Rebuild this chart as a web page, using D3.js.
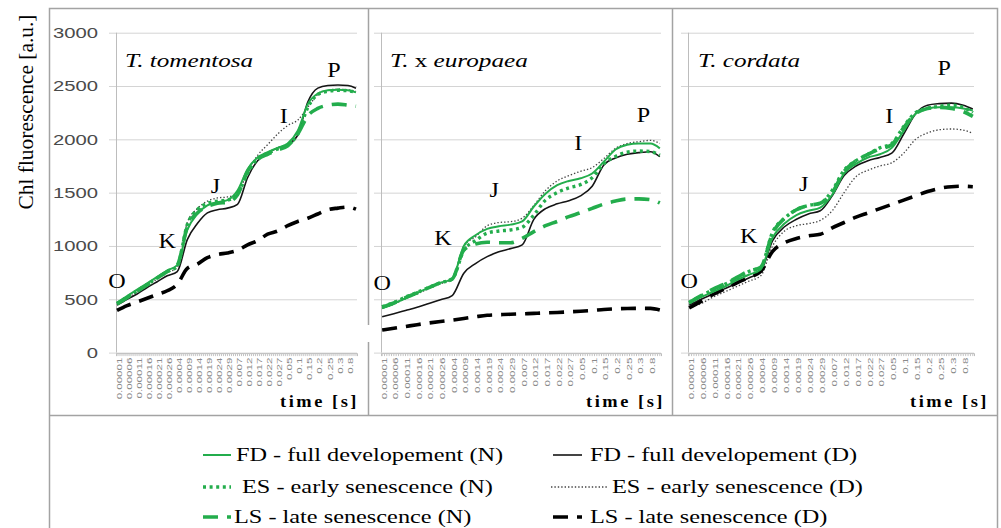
<!DOCTYPE html>
<html>
<head>
<meta charset="utf-8">
<script src="https://cdn.jsdelivr.net/npm/d3@7"></script>
<style>
  body { margin: 0; background: #fff; }
  svg { display: block; }
</style>
</head>
<body>
<svg id="svg" width="1001" height="528"></svg>
<script>
// time categories: one label every 5 categories
var xTickLabels = ["0.00001", "0.00006", "0.00011", "0.00016", "0.00021", "0.00026", "0.0004", "0.0009",
  "0.0014", "0.0019", "0.0024", "0.0029", "0.007", "0.012", "0.017", "0.022", "0.027", "0.05",
  "0.1", "0.15", "0.2", "0.25", "0.3", "0.8"];
var categoryCount = 120;
var labelEvery = 5;
var yTicks = [0, 500, 1000, 1500, 2000, 2500, 3000];

// values read at each labelled category plus the last one
var tomentosaFDN = [470, 530, 590, 650, 710, 770, 820, 1150, 1300, 1380, 1410, 1430, 1520, 1720, 1830, 1880, 1920, 1960, 2080, 2330, 2430, 2460, 2465, 2460, 2440];
var tomentosaFDD = [445, 500, 550, 610, 665, 720, 760, 1060, 1210, 1310, 1340, 1355, 1390, 1640, 1800, 1870, 1920, 1950, 2040, 2350, 2480, 2505, 2510, 2505, 2480];
var tomentosaESN = [460, 520, 580, 640, 700, 760, 810, 1200, 1340, 1400, 1420, 1430, 1490, 1680, 1820, 1870, 1910, 1950, 2050, 2300, 2420, 2450, 2460, 2455, 2440];
var tomentosaESD = [455, 510, 565, 625, 690, 750, 800, 1220, 1350, 1420, 1450, 1460, 1490, 1700, 1850, 1950, 2050, 2130, 2180, 2300, 2420, 2460, 2470, 2465, 2450];
var tomentosaLSN = [455, 515, 575, 635, 700, 760, 820, 1180, 1310, 1370, 1400, 1410, 1480, 1700, 1810, 1860, 1900, 1940, 2050, 2220, 2290, 2320, 2330, 2320, 2310];
var tomentosaLSD = [395, 440, 475, 510, 545, 580, 640, 790, 830, 890, 920, 935, 960, 1010, 1050, 1110, 1140, 1190, 1230, 1260, 1300, 1340, 1355, 1365, 1345];

var europaeaFDN = [415, 460, 510, 560, 610, 655, 690, 1000, 1100, 1160, 1185, 1200, 1230, 1370, 1490, 1570, 1610, 1635, 1680, 1790, 1905, 1950, 1962, 1960, 1915];
var europaeaFDD = [337, 365, 395, 425, 460, 495, 535, 745, 835, 900, 945, 975, 1010, 1250, 1350, 1395, 1425, 1470, 1560, 1760, 1825, 1860, 1875, 1884, 1837];
var europaeaESN = [430, 470, 520, 565, 610, 655, 690, 960, 1050, 1120, 1140, 1150, 1175, 1290, 1430, 1500, 1545, 1575, 1640, 1770, 1840, 1880, 1890, 1885, 1850];
var europaeaESD = [415, 455, 505, 550, 600, 645, 690, 1000, 1085, 1190, 1220, 1228, 1260, 1380, 1520, 1610, 1660, 1700, 1735, 1820, 1915, 1960, 1978, 1990, 1962];
var europaeaLSN = [425, 465, 515, 560, 610, 655, 690, 962, 1018, 1035, 1030, 1030, 1071, 1134, 1190, 1230, 1275, 1312, 1353, 1393, 1421, 1440, 1442, 1435, 1403];
var europaeaLSD = [212, 228, 245, 262, 278, 292, 305, 320, 336, 350, 355, 360, 364, 368, 372, 376, 382, 388, 395, 404, 410, 414, 415, 415, 400];

var cordataFDN = [462, 520, 570, 620, 680, 730, 780, 1080, 1210, 1290, 1330, 1360, 1480, 1680, 1770, 1830, 1860, 1920, 2080, 2240, 2290, 2300, 2300, 2290, 2270];
var cordataFDD = [445, 500, 550, 600, 650, 700, 760, 1050, 1180, 1250, 1300, 1330, 1470, 1660, 1750, 1800, 1830, 1870, 2050, 2240, 2320, 2335, 2340, 2320, 2285];
var cordataESN = [470, 530, 590, 640, 700, 760, 800, 1130, 1260, 1340, 1380, 1400, 1520, 1710, 1800, 1860, 1920, 1960, 2120, 2250, 2290, 2310, 2320, 2300, 2250];
var cordataESD = [420, 460, 520, 570, 620, 670, 720, 1000, 1140, 1190, 1210, 1240, 1330, 1500, 1650, 1710, 1750, 1780, 1870, 2000, 2060, 2090, 2097, 2087, 2056];
var cordataLSN = [470, 535, 595, 645, 705, 765, 800, 1120, 1260, 1340, 1380, 1400, 1500, 1700, 1800, 1860, 1910, 1950, 2110, 2240, 2290, 2300, 2290, 2260, 2215];
var cordataLSD = [420, 480, 545, 600, 655, 705, 760, 950, 1030, 1070, 1095, 1110, 1170, 1220, 1270, 1310, 1350, 1390, 1430, 1470, 1510, 1540, 1556, 1560, 1556];

// O, K, J, I, P labels: [category, value]
var phaseNames = ["O", "K", "J", "I", "P"];
var tomentosaPhase = [[0, 606], [25, 981], [49, 1496], [83, 2153], [108, 2584]];
var europaeaPhase = [[0, 587], [26, 1009], [48, 1459], [84, 1899], [112, 2162]];
var cordataPhase = [[0, 606], [25, 1028], [48, 1515], [84, 2153], [107, 2603]];

var seriesOrder = ["FDD", "ESD", "LSD", "FDN", "ESN", "LSN"];
var legendLabels = {
  FDN: "FD - full developement (N)", ESN: "ES - early senescence (N)", LSN: "LS - late senescence (N)",
  FDD: "FD - full developement (D)", ESD: "ES - early senescence (D)", LSD: "LS - late senescence (D)"
};

var green = "#23ad4c";
var styles = {
  FDN: { color: green, width: 2, dash: null },
  ESN: { color: green, width: 3.4, dash: "3,3.6" },
  LSN: { color: green, width: 3.6, dash: "15,9" },
  FDD: { color: "#151515", width: 1.6, dash: null },
  ESD: { color: "#444", width: 1.3, dash: "1.4,2" },
  LSD: { color: "#000", width: 3.6, dash: "15,9" }
};

var panels = [
  { title: [["T. ", "italic"], ["tomentosa", "italic"]], x0: 116, x1: 357, titleX: 125, timeX: 359, showY: true, phase: tomentosaPhase,
    data: { FDN: tomentosaFDN, FDD: tomentosaFDD, ESN: tomentosaESN, ESD: tomentosaESD, LSN: tomentosaLSN, LSD: tomentosaLSD } },
  { title: [["T. ", "italic"], ["x ", "normal"], ["europaea", "italic"]], x0: 381, x1: 661, titleX: 390, timeX: 665, showY: false, phase: europaeaPhase,
    data: { FDN: europaeaFDN, FDD: europaeaFDD, ESN: europaeaESN, ESD: europaeaESD, LSN: europaeaLSN, LSD: europaeaLSD } },
  { title: [["T. ", "italic"], ["cordata", "italic"]], x0: 688, x1: 974, titleX: 698, timeX: 989, showY: false, phase: cordataPhase,
    data: { FDN: cordataFDN, FDD: cordataFDD, ESN: cordataESN, ESD: cordataESD, LSN: cordataLSN, LSD: cordataLSD } }
];

var svg = d3.select("#svg");
var serif = "'Liberation Serif', 'Times New Roman', serif";
var sans = "'Liberation Sans', Arial, sans-serif";
var frameColor = "#a3a3a3";

var yScale = d3.scaleLinear().domain([0, 3000]).range([352.6, 32.7]);

// category index of every data point
var pointCategory = xTickLabels.map(function (d, i) { return i * labelEvery; }).concat([categoryCount - 1]);

//frame of the figure
var frame = svg.append("g").attr("fill", "none").attr("stroke", frameColor).attr("stroke-width", 1.5);
frame.append("rect").attr("x", 49.5).attr("y", 8.5).attr("width", 948).attr("height", 530);
frame.append("line").attr("x1", 49.5).attr("x2", 997.5).attr("y1", 415.5).attr("y2", 415.5);
frame.append("line").attr("x1", 368.5).attr("x2", 368.5).attr("y1", 8.5).attr("y2", 325);
frame.append("line").attr("x1", 368.5).attr("x2", 368.5).attr("y1", 342).attr("y2", 415.5);
frame.append("line").attr("x1", 672.5).attr("x2", 672.5).attr("y1", 8.5).attr("y2", 415.5);

// stretched text helper
function stext(g, x, y, str, size, sx, opts) {
  opts = opts || {};
  return g.append("text")
    .attr("transform", "translate(" + x + "," + y + ")" + (opts.rotate ? " rotate(" + opts.rotate + ")" : "") + " scale(" + sx + ",1)")
    .attr("font-family", opts.family || serif)
    .attr("font-size", size)
    .attr("font-style", opts.style || "normal")
    .attr("font-weight", opts.weight || "normal")
    .attr("text-anchor", opts.anchor || "start")
    .attr("fill", opts.fill || "#000")
    .text(str);
}

panels.forEach(function (p) {
  var xScale = d3.scaleBand().domain(d3.range(categoryCount)).range([p.x0, p.x1]);
  var xc = function (i) { return xScale(i) + xScale.bandwidth() / 2; };
  var g = svg.append("g");

  //gridlines with small outer ticks
  var grid = g.append("g").attr("transform", "translate(" + (p.x0 - 7) + ",0)")
    .call(d3.axisLeft(yScale).tickValues(yTicks).tickSize(-(p.x1 - p.x0 + 7)).tickFormat(""));
  grid.select(".domain").remove();
  grid.selectAll("line").attr("stroke", "#d4d4d4").attr("stroke-width", 1);

  g.append("line").attr("x1", p.x0 + 0.5).attr("x2", p.x0 + 0.5).attr("y1", yScale(3000)).attr("y2", yScale(0))
    .attr("stroke", "#bdbdbd").attr("stroke-width", 1);

  if (p.showY) {
    var yAxis = g.append("g").attr("transform", "translate(" + (p.x0 - 18) + ",0)")
      .call(d3.axisLeft(yScale).tickValues(yTicks).tickSize(0).tickPadding(0).tickFormat(d3.format("d")));
    yAxis.select(".domain").remove();
    yAxis.selectAll("text")
      .attr("font-family", sans).attr("font-size", 15).attr("fill", "#4a4a4a")
      .attr("x", 0).attr("transform", "scale(1.35,1)");
  }

  //x axis
  var xAxis = g.append("g").attr("transform", "translate(0," + (yScale(0) + 0.5) + ")")
    .call(d3.axisBottom(xScale).tickSize(3).tickFormat(function (d) {
      return d % labelEvery === 0 ? xTickLabels[d / labelEvery] : "";
    }));
  xAxis.select(".domain").attr("stroke", "#bdbdbd");
  xAxis.selectAll("line").attr("stroke", "#c4c4c4");
  xAxis.selectAll("text")
    .attr("font-family", sans).attr("font-size", 6.6).attr("fill", "#8a8a8a")
    .attr("text-anchor", "end")
    .attr("transform", "rotate(-90) scale(1.75,1)")
    .attr("x", -2.6).attr("y", 0).attr("dy", "0.7em");

  //curves
  seriesOrder.forEach(function (key) {
    var st = styles[key];
    var line = d3.line()
      .x(function (d, i) { return xc(pointCategory[i]); })
      .y(function (d) { return yScale(d); })
      .curve(d3.curveMonotoneX);
    g.append("path").datum(p.data[key])
      .attr("d", line)
      .attr("fill", "none")
      .attr("stroke", st.color)
      .attr("stroke-width", st.width)
      .attr("stroke-dasharray", st.dash)
      .attr("stroke-linejoin", "round");
  });

  //phase letters
  p.phase.forEach(function (d, i) {
    stext(g, xc(d[0]), yScale(d[1]), phaseNames[i], 21, 1.15, { anchor: "middle" });
  });

  //title
  var title = g.append("text")
    .attr("transform", "translate(" + p.titleX + ",67) scale(1.4,1)")
    .attr("font-family", serif).attr("font-size", 18);
  p.title.forEach(function (part) {
    title.append("tspan").attr("font-style", part[1]).text(part[0]);
  });

  stext(g, p.timeX, 407, "time [s]", 16, 1.15, { anchor: "end", weight: "bold" }).attr("letter-spacing", 2.2);
});

// y axis title
stext(svg, 33, 112, "Chl fluorescence [a.u.]", 21, 1.02, { anchor: "middle", rotate: -90 });

//legend
var legendCols = [
  { keys: ["FDN", "ESN", "LSN"], lineX: [203, 231], textX: [236, 242, 234] },
  { keys: ["FDD", "ESD", "LSD"], lineX: [553, 582], textX: [590, 612, 590] }
];
var rowY = [455, 487, 517];
var legend = svg.append("g");
legendCols.forEach(function (col, c) {
  col.keys.forEach(function (key, r) {
    var st = styles[key];
    var x2 = (key === "ESD") ? 607 : col.lineX[1];
    var x1 = (key === "ESD") ? 551 : col.lineX[0];
    legend.append("line")
      .attr("x1", x1).attr("x2", x2).attr("y1", rowY[r]).attr("y2", rowY[r])
      .attr("stroke", st.color).attr("stroke-width", st.width).attr("stroke-dasharray", st.dash);
    stext(legend, col.textX[r], rowY[r] + 6, legendLabels[key], 18, 1.35);
  });
});
</script>
</body>
</html>
